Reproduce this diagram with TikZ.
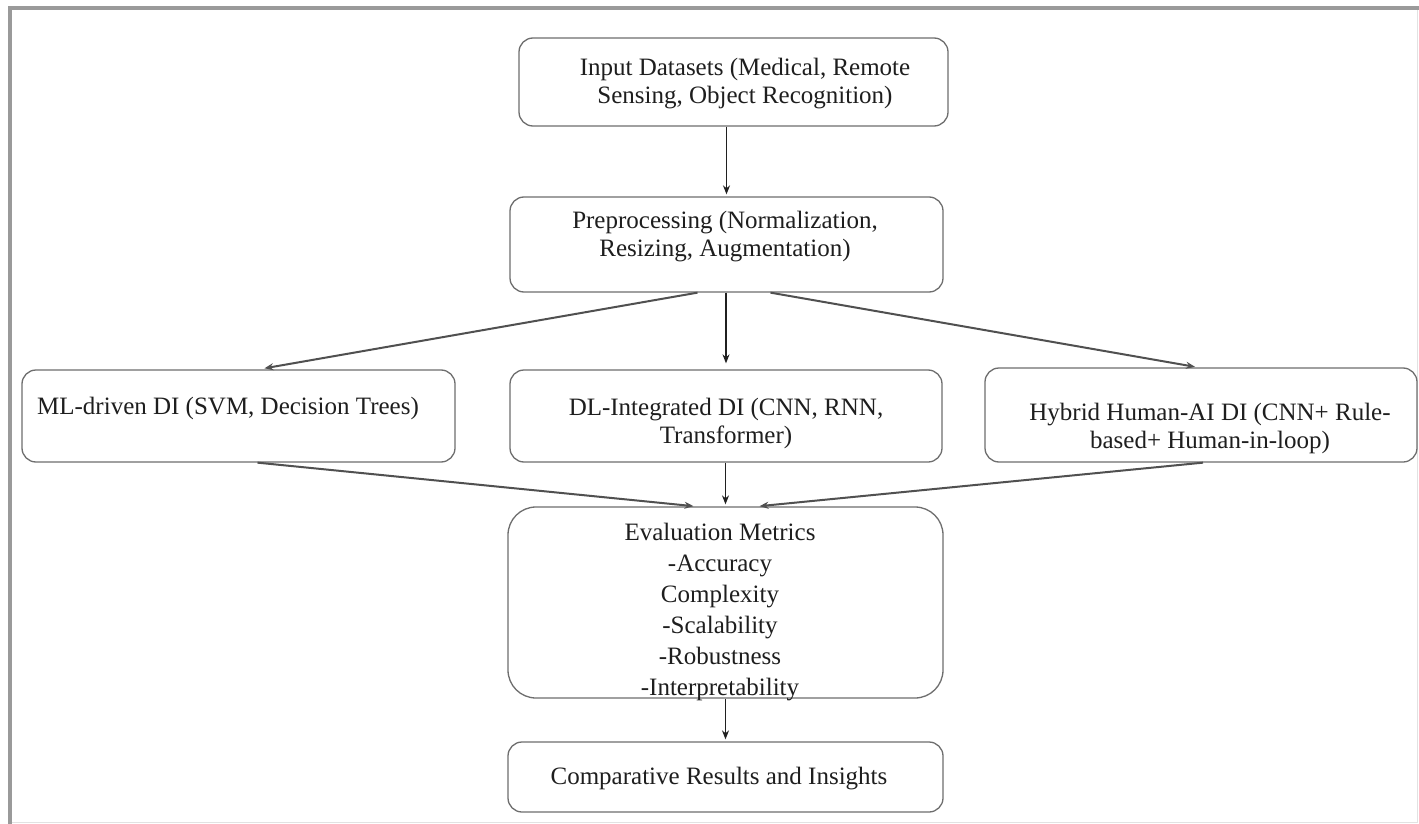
\documentclass[tikz,border=0pt]{standalone}
\usepackage{fontspec}
\setmainfont{Liberation Serif}
\usetikzlibrary{arrows.meta}
\definecolor{boxgray}{HTML}{6E6E6E}
\definecolor{txtcol}{HTML}{1E1E1E}
\definecolor{arrcol}{HTML}{202020}
\definecolor{diagcol}{HTML}{505050}
\definecolor{framecol}{HTML}{9A9A9A}
\definecolor{framelight}{HTML}{E2E2E2}
\begin{document}
\begin{tikzpicture}[x=1pt,y=-1pt,
  box/.style={draw=boxgray, line width=1.3pt, rounded corners=14pt, inner sep=0pt},
  txt/.style={text=txtcol, font=\fontsize{25}{28}\selectfont, align=center, inner sep=0pt},
  arr/.style={draw=arrcol, line width=1.2pt, -{Stealth[length=9pt,width=7pt]}},
  diag/.style={draw=diagcol, line width=2pt, -{Stealth[length=9pt,width=7pt]}}]
\useasboundingbox (0,0) rectangle (1419,824);
\fill[white] (0,0) rectangle (1419,824);
% frame
\draw[framelight, line width=1pt] (10,8) rectangle (1417,822);
\draw[framecol, line width=4pt] (10,824) -- (10,8.5) -- (1419,8.5);

% boxes
\node[box, minimum width=429pt, minimum height=88pt] (b1) at (733.5,82) {};
\node[box, minimum width=433pt, minimum height=95pt] (b2) at (726.5,244.5) {};
\node[box, minimum width=433pt, minimum height=92pt] (b3) at (238.5,416) {};
\node[box, minimum width=432pt, minimum height=92pt] (b4) at (726,416) {};
\node[box, minimum width=432pt, minimum height=94pt] (b5) at (1201,415) {};
\node[box, rounded corners=28pt, minimum width=435pt, minimum height=191pt] (b6) at (725.5,602.5) {};
\node[box, minimum width=435pt, minimum height=70pt] (b7) at (725.5,777) {};

% texts
\node[txt] (t1) at (745,84) {Input Datasets (Medical, Remote\\Sensing, Object Recognition)};
\node[txt] (t2) at (725,237) {Preprocessing (Normalization,\\Resizing, Augmentation)};
\node[txt] (t3) at (228,408) {ML-driven DI (SVM, Decision Trees)};
\node[txt] (t4) at (726,423) {DL-Integrated DI (CNN, RNN,\\Transformer)};
\node[txt] (t5) at (1210,428) {Hybrid Human-AI DI (CNN+ Rule-\\based+ Human-in-loop)};
\node[txt, font=\fontsize{25}{31}\selectfont] (t6) at (720,612) {Evaluation Metrics\\-Accuracy\\Complexity\\-Scalability\\-Robustness\\-Interpretability};
\node[txt] (t7) at (719,779) {Comparative Results and Insights};

% connectors
\draw[arr, shorten >=2pt] (b2.north |- b1.south) -- (b2.north);
\draw[arr, shorten >=6pt] (b4.north |- b2.south) -- (b4.north);
\draw[diag, shorten >=6pt] ([xshift=-29pt]b2.south) -- ([xshift=20pt]b3.north);
\draw[diag, shorten >=3pt] ([xshift=44pt]b2.south) -- ([xshift=-3pt]b5.north);
\draw[diag, shorten >=2pt] ([xshift=19pt]b3.south) -- ([xshift=-30pt]b6.north);
\draw[arr, shorten >=2pt] (b6.north |- b4.south) -- (b6.north);
\draw[diag, shorten >=2pt] ([xshift=2pt]b5.south) -- ([xshift=32pt]b6.north);
\draw[arr, shorten >=2pt] (b7.north |- b6.south) -- (b7.north);
\end{tikzpicture}
\end{document}
